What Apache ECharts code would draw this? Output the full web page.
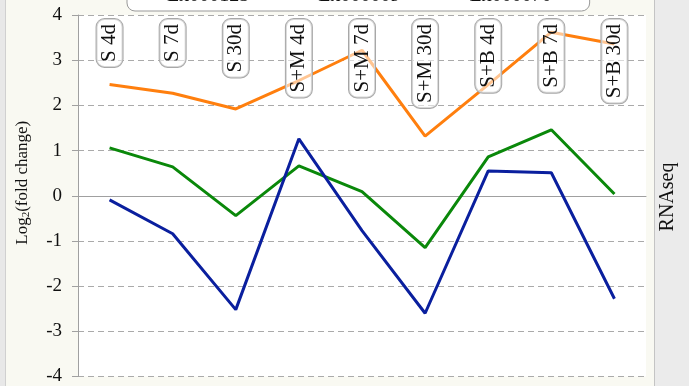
<!DOCTYPE html>
<html>
<head>
<meta charset="utf-8">
<script src="https://cdn.jsdelivr.net/npm/echarts@6/dist/echarts.min.js"></script>
<style>
  html, body { margin: 0; padding: 0; background: #f9f9f2; }
  #chart { width: 689px; height: 386px; }
</style>
</head>
<body>
<div id="chart"></div>
<script>
// Conditions (treatment + time point)
const categories = ['S 4d', 'S 7d', 'S 30d', 'S+M 4d', 'S+M 7d', 'S+M 30d', 'S+B 4d', 'S+B 7d', 'S+B 30d'];

// Log2 fold change per gene
const seriesNames = ['Ex000125', 'Ex000009', 'Ex000070'];
const orangeValues = [2.46, 2.27, 1.92, 2.55, 3.22, 1.32, 2.46, 3.62, 3.36];
const greenValues  = [1.06, 0.64, -0.44, 0.66, 0.09, -1.15, 0.86, 1.46, 0.04];
const blueValues   = [-0.09, -0.84, -2.52, 1.26, -0.77, -2.60, 0.55, 0.51, -2.28];

const yTicks = { min: -4, max: 4, step: 1 };

const serif = "'Liberation Serif', 'DejaVu Serif', serif";
const chart = echarts.init(document.getElementById('chart'), null, { renderer: 'canvas' });

function lineSeries(name, data, color) {
  return {
    name: name,
    type: 'line',
    data: data,
    xAxisIndex: 0,
    symbol: 'none',
    z: 2,
    lineStyle: { color: color, width: 3 },
    itemStyle: { color: color }
  };
}

chart.setOption({
  backgroundColor: '#f9f9f2',
  animation: false,
  graphic: [
    { type: 'rect', shape: { x: 0, y: 0, width: 5, height: 386 }, style: { fill: '#e8e8e8' }, z: -10 },
    { type: 'line', shape: { x1: 5.5, y1: 0, x2: 5.5, y2: 386 }, style: { stroke: '#d0d0d0', lineWidth: 1 }, z: -10 },
    { type: 'rect', shape: { x: 654, y: 0, width: 35, height: 386 }, style: { fill: '#ebebeb' }, z: -10 },
    { type: 'line', shape: { x1: 654.5, y1: 0, x2: 654.5, y2: 386 }, style: { stroke: '#c4c4c4', lineWidth: 1 }, z: -10 },
    {
      type: 'text', x: 668, y: 197, rotation: Math.PI / 2,
      style: { text: 'RNAseq', font: '20px ' + serif, fill: '#111', align: 'center', verticalAlign: 'middle' }
    }
  ],
  legend: {
    data: seriesNames,
    left: 127,
    top: -19,
    orient: 'horizontal',
    padding: [5, 38, 5, 25],
    itemGap: 54,
    itemWidth: 10,
    itemHeight: 20,
    icon: 'path://M0,19 L10,19 L10,20 L0,20 Z',
    itemStyle: { color: '#c8c8c8' },
    backgroundColor: '#ffffff',
    borderColor: '#999999',
    borderWidth: 1,
    borderRadius: 8,
    textStyle: { fontFamily: serif, fontSize: 20, color: '#111' }
  },
  grid: {
    left: 78, right: 43, top: 15, bottom: 9,
    show: true, backgroundColor: '#ffffff', borderWidth: 0
  },
  xAxis: [
    {
      type: 'category',
      data: categories,
      boundaryGap: true,
      position: 'bottom',
      axisLine: { onZero: true, lineStyle: { color: '#a0a0a0', width: 1 } },
      axisTick: { show: false },
      axisLabel: { show: false },
      splitLine: { show: false }
    },
    {
      type: 'category',
      data: categories,
      boundaryGap: true,
      position: 'top',
      z: 10,
      axisLine: { show: false },
      axisTick: { show: false },
      splitLine: { show: false },
      axisLabel: {
        inside: true,
        rotate: -90,
        margin: 4,
        interval: 0,
        fontFamily: serif,
        fontSize: 21,
        color: '#111',
        lineHeight: 22,
        backgroundColor: 'rgba(255,255,255,0.55)',
        borderColor: '#a8a8a8',
        borderWidth: 1,
        borderRadius: 8,
        padding: [3, 5, 1, 5]
      }
    }
  ],
  yAxis: {
    type: 'value',
    min: yTicks.min,
    max: yTicks.max,
    interval: yTicks.step,
    name: '{n|Log}{s|2}{n|(fold change)}',
    nameLocation: 'middle',
    nameGap: 46,
    nameRotate: 90,
    nameTextStyle: {
      fontFamily: serif,
      fontSize: 17,
      color: '#111',
      padding: [0, 0, 0, 26],
      rich: {
        n: { fontFamily: serif, fontSize: 17, color: '#111' },
        s: { fontFamily: serif, fontSize: 11, color: '#111', padding: [8, 0, 0, 0] }
      }
    },
    axisLine: { show: true, lineStyle: { color: '#a0a0a0', width: 1 } },
    axisTick: { show: true, length: 6, lineStyle: { color: '#a0a0a0' } },
    axisLabel: { fontFamily: serif, fontSize: 19, color: '#111', margin: 16 },
    splitLine: { show: true, lineStyle: { color: '#aaaaaa', type: [6, 4], width: 1 } }
  },
  series: [
    lineSeries(seriesNames[0], orangeValues, '#ff7f0e'),
    lineSeries(seriesNames[1], greenValues, '#0a880a'),
    lineSeries(seriesNames[2], blueValues, '#0a1f9e')
  ]
});
</script>
</body>
</html>
